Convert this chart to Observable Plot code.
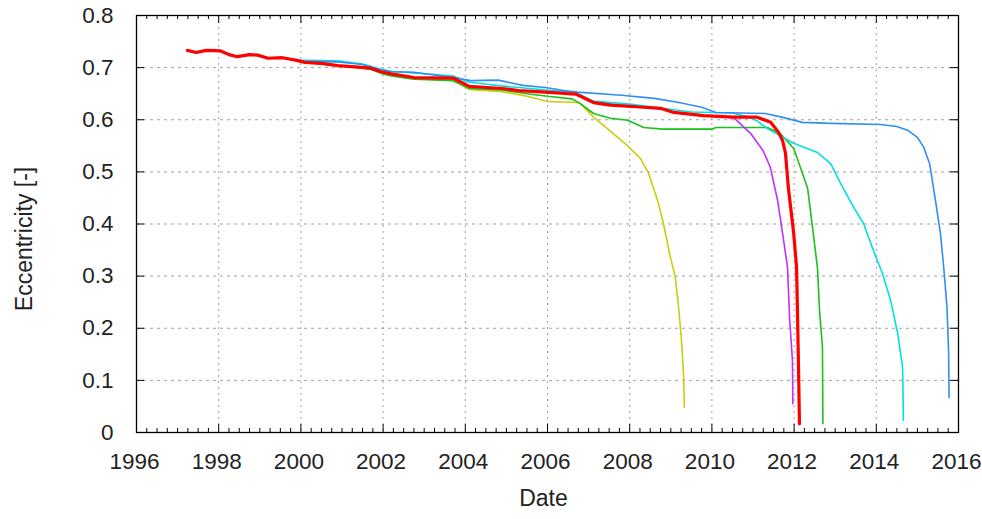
<!DOCTYPE html>
<html>
<head>
<meta charset="utf-8">
<script src="https://cdn.jsdelivr.net/npm/d3@7"></script>
<script src="https://cdn.jsdelivr.net/npm/@observablehq/plot@0.6"></script>
<style>
  html, body { margin: 0; padding: 0; background: #fff; }
  #chart svg { display: block; }
</style>
</head>
<body>
<div id="chart"></div>
<script>
// ---- Data ----
const xTickYears = [1996, 1998, 2000, 2002, 2004, 2006, 2008, 2010, 2012, 2014, 2016];
const yTickValues = [0, 0.1, 0.2, 0.3, 0.4, 0.5, 0.6, 0.7, 0.8];
const xLabel = "Date";
const yLabel = "Eccentricity [-]";

// shared early trajectory [year, eccentricity]
const common = [[1997.24,0.733],[1997.45,0.729],[1997.7,0.733],[1998.05,0.732],[1998.25,0.725],
  [1998.45,0.721],[1998.75,0.725],[1998.95,0.724],[1999.2,0.718],[1999.55,0.719],[1999.9,0.714]];

const redLate = [[2000.1,0.710],[2000.5,0.708],[2000.9,0.704],[2001.4,0.701],[2001.7,0.699],[2001.95,0.692],
  [2002.2,0.688],[2002.75,0.681],[2003.7,0.680],[2004.1,0.664],[2004.9,0.660],[2005.3,0.656],[2005.95,0.653],
  [2006.7,0.649],[2007.12,0.633],[2007.53,0.628],[2008.34,0.624],[2008.75,0.622],[2009.07,0.614],[2009.8,0.608],
  [2010.53,0.605],[2011.1,0.605],[2011.43,0.595],[2011.62,0.576],[2011.72,0.56],[2011.79,0.536],[2011.86,0.47],
  [2011.99,0.382],[2012.06,0.317],[2012.08,0.24],[2012.11,0.113],[2012.13,0.017]];

const purpleLate = [[2000.1,0.710],[2000.5,0.708],[2000.9,0.704],[2001.4,0.701],[2001.7,0.699],[2001.95,0.692],
  [2002.2,0.688],[2002.75,0.681],[2003.7,0.680],[2004.1,0.664],[2004.9,0.660],[2005.3,0.656],[2005.95,0.653],
  [2006.7,0.649],[2007.12,0.634],[2007.4,0.633],[2007.6,0.629],[2008.34,0.625],[2008.75,0.622],[2009.07,0.615],
  [2009.8,0.608],[2010.53,0.604],[2010.94,0.574],[2011.25,0.54],[2011.42,0.509],[2011.6,0.445],[2011.72,0.382],
  [2011.84,0.317],[2011.89,0.22],[2011.96,0.138],[2011.97,0.055]];

const greenLate = [[2000.1,0.710],[2000.9,0.704],[2001.4,0.700],[2001.7,0.697],[2001.95,0.689],[2002.2,0.684],
  [2002.75,0.678],[2003.7,0.675],[2004.1,0.660],[2004.9,0.657],[2005.5,0.650],[2006.0,0.645],[2006.6,0.640],
  [2006.8,0.631],[2007.12,0.612],[2007.53,0.603],[2007.95,0.599],[2008.34,0.585],[2008.8,0.582],[2010.0,0.582],
  [2010.1,0.585],[2011.35,0.585],[2011.67,0.573],[2011.99,0.545],[2012.16,0.507],[2012.33,0.468],[2012.45,0.392],
  [2012.57,0.315],[2012.62,0.232],[2012.69,0.163],[2012.7,0.017]];

const yellowLate = [[2000.1,0.710],[2000.9,0.704],[2001.4,0.700],[2001.7,0.697],[2001.95,0.690],[2002.2,0.686],
  [2002.75,0.679],[2003.7,0.676],[2004.1,0.658],[2004.9,0.654],[2005.5,0.645],[2006.0,0.635],[2006.73,0.633],
  [2006.8,0.631],[2007.12,0.605],[2007.53,0.578],[2007.95,0.55],[2008.26,0.526],[2008.46,0.497],[2008.68,0.445],
  [2008.82,0.401],[2008.99,0.336],[2009.11,0.298],[2009.19,0.24],[2009.26,0.177],[2009.31,0.113],[2009.33,0.048]];

const cyanLate = [[2000.1,0.714],[2000.9,0.713],[2001.5,0.707],[2001.9,0.698],[2002.2,0.693],[2002.75,0.690],
  [2003.7,0.684],[2004.1,0.672],[2005.0,0.664],[2005.95,0.657],[2006.7,0.652],[2007.1,0.636],[2008.0,0.630],
  [2008.8,0.622],[2009.5,0.615],[2010.0,0.614],[2010.5,0.613],[2010.9,0.605],[2011.1,0.598],[2011.35,0.583],
  [2011.99,0.555],[2012.57,0.537],[2012.89,0.516],[2013.13,0.478],[2013.45,0.432],[2013.69,0.401],[2013.93,0.349],
  [2014.15,0.305],[2014.35,0.253],[2014.52,0.19],[2014.64,0.125],[2014.66,0.023]];

const blueLate = [[2000.1,0.712],[2000.9,0.711],[2001.5,0.706],[2001.9,0.697],[2002.2,0.692],[2002.74,0.691],
  [2003.71,0.681],[2004.13,0.675],[2004.8,0.676],[2005.4,0.666],[2005.95,0.662],[2006.4,0.656],[2006.73,0.653],
  [2007.8,0.647],[2008.6,0.641],[2009.2,0.633],[2009.75,0.624],[2010.1,0.614],[2011.3,0.612],[2011.7,0.605],
  [2012.2,0.595],[2012.9,0.593],[2014.1,0.591],[2014.5,0.587],[2014.76,0.58],[2015.0,0.566],[2015.15,0.548],
  [2015.3,0.515],[2015.44,0.445],[2015.56,0.382],[2015.64,0.317],[2015.72,0.24],[2015.76,0.152],[2015.77,0.067]];

const seriesColors = {purple:"#c030ff", green:"#1cc01c", yellow:"#cccc10", cyan:"#00e0e0", blue:"#2f8ff5", red:"#ff0000"};

// ---- Build ----
const series = [
  {name:"yellow", pts: common.concat(yellowLate), w: 1.6},
  {name:"green",  pts: common.concat(greenLate),  w: 1.6},
  {name:"purple", pts: common.concat(purpleLate), w: 1.6},
  {name:"cyan",   pts: common.concat(cyanLate),   w: 1.6},
  {name:"blue",   pts: common.concat(blueLate),   w: 1.6},
  {name:"red",    pts: common.concat(redLate),    w: 3.2}
];

const minorYears = d3.range(1996, 2016.001, 0.25).filter(v => Math.abs(v/2 - Math.round(v/2)) > 1e-6);
const gridYears = xTickYears.slice(1, -1);
const gridYs = yTickValues.slice(1, -1);

const W = 982, H = 519, mL = 136, mR = 24, mT = 15, mB = 87;
const fw = W - mL - mR, fh = H - mT - mB;
const gridStyle = {stroke: "#a0a0a0", strokeOpacity: 1, strokeWidth: 1};

const chart = Plot.plot({
  width: W, height: H,
  marginLeft: mL, marginRight: mR, marginTop: mT, marginBottom: mB,
  x: {domain: [1996, 2016]},
  y: {domain: [0, 0.8]},
  style: {fontFamily: "'Liberation Sans', Arial, sans-serif", fontSize: "22.5px", background: "#fff", color: "#222"},
  marks: [
    Plot.gridX(gridYears, {...gridStyle, strokeDasharray: "2,4"}),
    Plot.gridY(gridYs, {...gridStyle, strokeDasharray: "3,4"}),
    ...series.map(s => Plot.line(s.pts, {x: d => d[0], y: d => d[1], stroke: seriesColors[s.name], strokeWidth: s.w})),
    // inward ticks
    Plot.tickX(xTickYears, {x: d => d, insetTop: fh - 8, stroke: "#000"}),
    Plot.tickX(xTickYears, {x: d => d, insetBottom: fh - 8, stroke: "#000"}),
    Plot.tickX(minorYears, {x: d => d, insetTop: fh - 4, stroke: "#000"}),
    Plot.tickX(minorYears, {x: d => d, insetBottom: fh - 4, stroke: "#000"}),
    Plot.tickY(yTickValues, {y: d => d, insetRight: fw - 8, stroke: "#000"}),
    Plot.tickY(yTickValues, {y: d => d, insetLeft: fw - 8, stroke: "#000"}),
    Plot.frame({stroke: "#000", strokeWidth: 1.3}),
    Plot.axisX(xTickYears, {tickSize: 0, tickPadding: 21, dx: -2, tickFormat: d => String(d), label: null}),
    Plot.axisY(yTickValues, {tickSize: 0, tickPadding: 23, tickFormat: d => d === 0 ? "0" : d.toFixed(1), label: null}),
    Plot.text([xLabel], {text: d => d, frameAnchor: "bottom", dy: 73, dx: -4, fontSize: 23, fill: "#222"}),
    Plot.text([yLabel], {text: d => d, frameAnchor: "left", textAnchor: "middle", dx: -112, dy: 15, rotate: -90, fontSize: 23, fill: "#222"})
  ]
});
document.getElementById("chart").appendChild(chart);
</script>
</body>
</html>
